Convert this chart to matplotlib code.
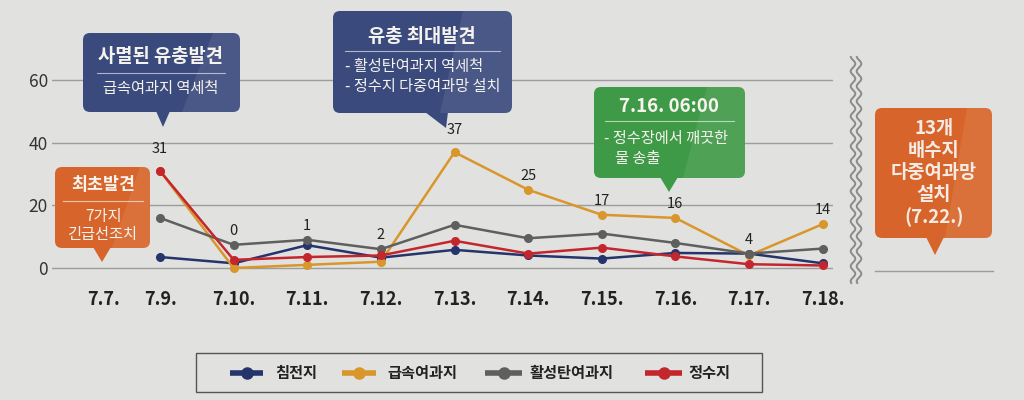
import numpy as np
import matplotlib
matplotlib.use('Agg')
import matplotlib.pyplot as plt
from matplotlib.patches import FancyBboxPatch, Polygon, Rectangle

plt.rcParams['font.family'] = ['Noto Sans CJK KR', 'DejaVu Sans']

# data (7.7. has no measurement)
dates = ['7.7.', '7.9.', '7.10.', '7.11.', '7.12.', '7.13.', '7.14.', '7.15.', '7.16.', '7.17.', '7.18.']
sedim = [3.5, 1.5, 7.3, 3.3, 5.8, 4.0, 3.0, 4.8, 4.6, 1.5]      # 침전지
rapid = [31, 0, 1, 2, 37, 25, 17, 16, 4, 14]                     # 급속여과지
carbon = [16, 7.4, 9, 6, 13.8, 9.5, 11, 8, 4.6, 6.2]             # 활성탄여과지
clearw = [31, 2.6, 3.5, 4, 8.7, 4.6, 6.5, 3.7, 1.2, 0.8]         # 정수지
names = ['침전지', '급속여과지', '활성탄여과지', '정수지']
colors = ['#25346b', '#d9962b', '#5f5f5f', '#c4262e']
yticks = [0, 20, 40, 60]

bg = '#e1e1df'
fig = plt.figure(figsize=(10.24, 4), dpi=100, facecolor=bg)

ax = fig.add_axes([52 / 1024, (400 - 280.5) / 400, (833 - 52) / 1024, (280.5 - 67.7) / 400])
ax.set_facecolor('none')
ax.set_xlim(-1.4674, 9.1413)
ax.set_ylim(-4, 64)
for s in ax.spines.values():
    s.set_visible(False)

x = np.arange(len(rapid))
date_x = [-0.77] + list(x)

ax.set_yticks(yticks)
ax.set_yticklabels([str(v) for v in yticks])
ax.set_xticks(date_x)
ax.set_xticklabels(dates, fontweight='bold', fontsize=13, color='#222222')
ax.tick_params(axis='y', length=0, labelsize=12.5, colors='#333333', pad=3)
ax.tick_params(axis='x', length=0, pad=7)
ax.grid(axis='y', color='#9c9c9c', lw=1)
ax.set_axisbelow(True)

# draw order: gray, gold, red, navy on top
order = [(carbon, 2), (rapid, 1), (clearw, 3), (sedim, 0)]
for vals, k in order:
    ax.plot(x, vals, color=colors[k], lw=1.8, marker='o', ms=5.5, clip_on=False, zorder=3 + k)

allser = [sedim, rapid, carbon, clearw]
for i, v in enumerate(rapid):
    top = max(s[i] for s in allser)
    off = 16 if top > 30 else 10
    ax.annotate(str(v), (i, top), xytext=(0, off), textcoords='offset points',
                ha='center', va='center', fontsize=10.5, color='#222222')

# overlay in pixel coordinates for callouts, legend, break mark
ax2 = fig.add_axes([0, 0, 1, 1], facecolor='none')
ax2.set_xlim(0, 1024)
ax2.set_ylim(400, 0)
ax2.axis('off')


def callout(x0, y0, x1, y1, base, tip, color, sheen):
    box = FancyBboxPatch((x0, y0), x1 - x0, y1 - y0, boxstyle='round,pad=0,rounding_size=7',
                         fc=color, ec='none')
    ax2.add_patch(box)
    ax2.add_patch(Polygon([(base[0], y1 - 1), (base[1], y1 - 1), tip], closed=True, fc=color, ec='none'))
    sh = Polygon([(sheen[0], y0), (x1, y0), (x1, y1), (sheen[1], y1)], closed=True,
                 fc='white', alpha=0.08, ec='none')
    ax2.add_patch(sh)
    sh.set_clip_path(box)


def sep(xa, xb, y):
    ax2.plot([xa, xb], [y, y], color='white', alpha=0.6, lw=0.8)


navy_box = '#3a4a7c'
green_box = '#3f9a47'
orange_box = '#d7652b'
txt = '#f6f3ee'

# 사멸된 유충발견
callout(83, 33, 240, 112, (156, 170), (163, 127), navy_box, (213, 182))
ax2.text(161, 57, '사멸된 유충발견', ha='center', va='center', color=txt, fontsize=13.5, fontweight='bold')
sep(97, 225, 73)
ax2.text(161, 88, '급속여과지 역세척', ha='center', va='center', color=txt, fontsize=11)

# 유충 최대발견
callout(333, 11, 512, 113, (425, 448), (446, 128), navy_box, (463, 440))
ax2.text(422, 37, '유충 최대발견', ha='center', va='center', color=txt, fontsize=13.5, fontweight='bold')
sep(345, 500, 51)
ax2.text(345, 67, '- 활성탄여과지 역세척', ha='left', va='center', color=txt, fontsize=11)
ax2.text(345, 87, '- 정수지 다중여과망 설치', ha='left', va='center', color=txt, fontsize=11)

# 7.16. 06:00
callout(594, 87, 745, 178, (660, 678), (669, 192), green_box, (707, 683))
ax2.text(669, 106, '7.16. 06:00', ha='center', va='center', color=txt, fontsize=13.5, fontweight='bold')
sep(605, 734, 121)
ax2.text(604, 139, '- 정수장에서 깨끗한', ha='left', va='center', color=txt, fontsize=11)
ax2.text(615, 158, '물 송출', ha='left', va='center', color=txt, fontsize=11)

# 최초발견
callout(55, 167, 150, 248, (93, 111), (102, 262), orange_box, (140, 112))
ax2.text(103, 185, '최초발견', ha='center', va='center', color=txt, fontsize=12.5, fontweight='bold')
sep(63, 143, 201)
ax2.text(103, 217, '7가지', ha='center', va='center', color=txt, fontsize=11)
ax2.text(103, 234, '긴급선조치', ha='center', va='center', color=txt, fontsize=11)

# 13개 배수지
callout(875, 108, 992, 238, (926, 944), (935, 255), orange_box, (967, 945))
for j, line in enumerate(['13개', '배수지', '다중여과망', '설치', '(7.22.)']):
    ax2.text(934, 128 + 22.2 * j, line, ha='center', va='center', color='#f4ece4',
             fontsize=13.5, fontweight='bold')

# break mark and gridline after it
yy = np.linspace(57, 283, 400)
for xc in (853, 859):
    ax2.plot(xc + 2.3 * np.sin(2 * np.pi * yy / 15), yy, color='#8a8a8a', lw=1.4)
ax2.plot([875, 993], [271, 271], color='#9c9c9c', lw=1)

# legend
ax2.add_patch(Rectangle((196, 353), 566, 39, fc='none', ec='#555555', lw=1))
leg = [(230, 263, 275), (342, 376, 387), (485, 522, 530), (645, 682, 688)]
for (xa, xb, xt), nm, c in zip(leg, names, colors):
    ax2.plot([xa, xb], [373, 373], color=c, lw=4, solid_capstyle='butt')
    ax2.plot((xa + xb) / 2, 373, 'o', ms=8, color=c)
    ax2.text(xt, 373, nm, ha='left', va='center', fontsize=11, fontweight='bold', color='#222222')

fig.savefig('out.png', dpi=100, facecolor=fig.get_facecolor())
